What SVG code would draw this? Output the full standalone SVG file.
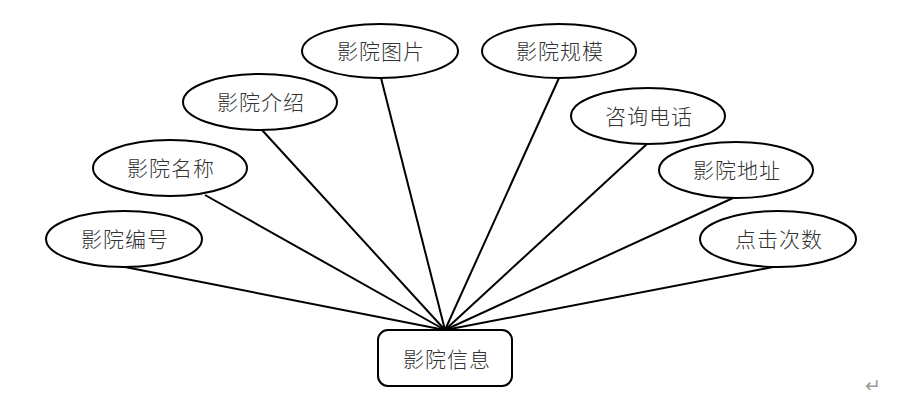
<svg xmlns="http://www.w3.org/2000/svg" width="912" height="402" viewBox="0 0 912 402">
<style>
.n ellipse,.n rect{fill:#fff;stroke:#000;stroke-width:2}
.n text{font-family:"Noto Sans CJK SC","Noto Sans CJK JP",sans-serif;font-size:21px;font-weight:300;letter-spacing:1px;fill:#333;text-anchor:middle;dominant-baseline:central}
.c line{stroke:#000;stroke-width:2}
</style>
<rect width="912" height="402" fill="#fff"/>
<g class="c">
<line x1="125" y1="267" x2="445" y2="330"/>
<line x1="205" y1="195" x2="445" y2="330"/>
<line x1="262" y1="130" x2="445" y2="330"/>
<line x1="381" y1="78" x2="445" y2="330"/>
<line x1="559" y1="78" x2="445" y2="330"/>
<line x1="648" y1="143" x2="445" y2="330"/>
<line x1="733" y1="198" x2="445" y2="330"/>
<line x1="773" y1="267" x2="445" y2="330"/>
</g>
<g class="n" id="n1"><ellipse cx="124" cy="239" rx="78" ry="28"/><text x="125" y="238">影院编号</text></g>
<g class="n" id="n2"><ellipse cx="170" cy="168" rx="77" ry="28"/><text x="171" y="167">影院名称</text></g>
<g class="n" id="n3"><ellipse cx="260" cy="102" rx="77" ry="28"/><text x="261" y="101">影院介绍</text></g>
<g class="n" id="n4"><ellipse cx="380" cy="51" rx="78" ry="27"/><text x="381" y="50">影院图片</text></g>
<g class="n" id="n5"><ellipse cx="559" cy="51" rx="77" ry="27"/><text x="560" y="50">影院规模</text></g>
<g class="n" id="n6"><ellipse cx="648" cy="116" rx="77" ry="28"/><text x="649" y="115">咨询电话</text></g>
<g class="n" id="n7"><ellipse cx="736" cy="170" rx="77" ry="28"/><text x="737" y="169">影院地址</text></g>
<g class="n" id="n8"><ellipse cx="778" cy="239" rx="78" ry="28"/><text x="779" y="238">点击次数</text></g>
<g class="n" id="n0"><rect x="378" y="330" width="134" height="56" rx="10"/><text x="447" y="358">影院信息</text></g>
<text x="873" y="392" font-family="DejaVu Sans,sans-serif" font-size="19" fill="#999" text-anchor="middle">↵</text>
</svg>
